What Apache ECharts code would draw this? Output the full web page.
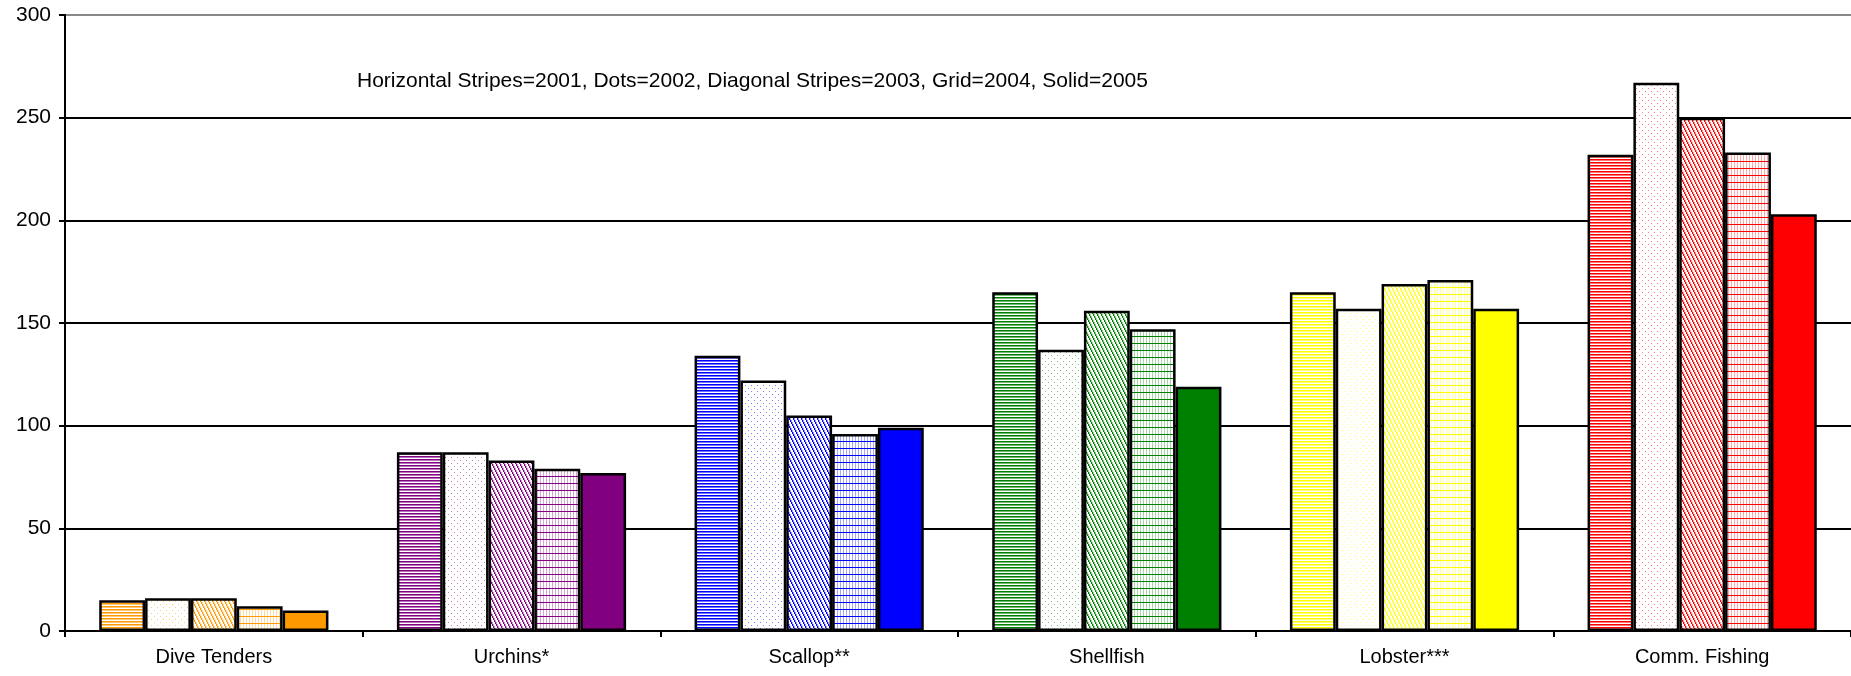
<!DOCTYPE html>
<html>
<head>
<meta charset="utf-8">
<script src="https://cdn.jsdelivr.net/npm/echarts@6/dist/echarts.min.js"></script>
<style>
  html, body { margin: 0; padding: 0; background: #fff; }
  #chart { width: 1851px; height: 676px; }
</style>
</head>
<body>
<div id="chart"></div>
<script>
const categories = ['Dive Tenders', 'Urchins*', 'Scallop**', 'Shellfish', 'Lobster***', 'Comm. Fishing']
const years = ['2001', '2002', '2003', '2004', '2005']
const catColors = ['#FF9900', '#800080', '#0000FF', '#008000', '#FFFF00', '#FF0000']

// values per year, one entry per category
const v2001 = [15, 87, 134, 165, 165, 232]
const v2002 = [16, 87, 122, 137, 157, 267]
const v2003 = [16, 83, 105, 156, 169, 250]
const v2004 = [12, 79, 96, 147, 171, 233]
const v2005 = [10, 77, 99, 119, 157, 203]
const yearValues = [v2001, v2002, v2003, v2004, v2005]

const noteText = 'Horizontal Stripes=2001, Dots=2002, Diagonal Stripes=2003, Grid=2004, Solid=2005'

// build a small repeating fill for each year style
const makePattern = (kind, color) => {
  const c = document.createElement('canvas')
  const ctx = c.getContext('2d')
  const px = (x, y, alpha) => {
    ctx.globalAlpha = alpha
    ctx.fillStyle = color
    ctx.fillRect(x, y, 1, 1)
  }
  if (kind === 0) {
    // horizontal stripes
    c.width = 4; c.height = 3
    ctx.fillStyle = '#fff'; ctx.fillRect(0, 0, 4, 3)
    for (let x = 0; x < 4; x++) { px(x, 0, 1); px(x, 1, 0.55) }
  } else if (kind === 1) {
    // dots
    c.width = 6; c.height = 6
    ctx.fillStyle = '#fff'; ctx.fillRect(0, 0, 6, 6)
    px(1, 1, 0.5); px(4, 4, 0.5)
  } else if (kind === 2) {
    // diagonal stripes
    c.width = 4; c.height = 8
    ctx.fillStyle = '#fff'; ctx.fillRect(0, 0, 4, 8)
    for (let y = 0; y < 8; y++) {
      const x = Math.floor(y / 2) % 4
      px(x, y, 1)
      px((x + 1) % 4, y, 0.4)
    }
  } else if (kind === 3) {
    // grid
    c.width = 3; c.height = 7
    ctx.fillStyle = '#fff'; ctx.fillRect(0, 0, 3, 7)
    for (let y = 0; y < 7; y++) px(0, y, 0.35)
    for (let x = 0; x < 3; x++) px(x, 0, 1)
  } else {
    return color
  }
  return { image: c, repeat: 'repeat' }
}

const chart = echarts.init(document.getElementById('chart'))

const series = years.map((yr, k) => ({
  name: yr,
  type: 'bar',
  barGap: '0%',
  barCategoryGap: '23%',
  data: yearValues[k].map((v, i) => ({
    value: v,
    itemStyle: { color: makePattern(k, catColors[i]) }
  })),
  itemStyle: { borderColor: '#000', borderWidth: 2.5 },
  emphasis: { disabled: true }
}))

const option = {
  animation: false,
  backgroundColor: '#fff',
  title: {
    text: noteText,
    left: 352,
    top: 66,
    textStyle: { fontFamily: 'Liberation Sans', fontSize: 21, fontWeight: 'normal', color: '#000' }
  },
  grid: { left: 65, right: 0, top: 15, bottom: 45 },
  xAxis: {
    type: 'category',
    data: categories,
    axisLine: { lineStyle: { color: '#000', width: 2 } },
    axisTick: { show: true, alignWithLabel: false, length: 6, lineStyle: { color: '#000', width: 2 } },
    axisLabel: { fontFamily: 'Liberation Sans', fontSize: 20, color: '#000', margin: 16 }
  },
  yAxis: {
    type: 'value',
    min: 0,
    max: 300,
    interval: 50,
    axisLine: { show: true, lineStyle: { color: '#000', width: 2 } },
    axisTick: { show: true, length: 6, lineStyle: { color: '#000', width: 2 } },
    axisLabel: { fontFamily: 'Liberation Sans', fontSize: 21, color: '#000', margin: 14 },
    splitLine: { lineStyle: { color: ['#000', '#000', '#000', '#000', '#000', '#000', '#888'], width: 2 } }
  },
  series
}

chart.setOption(option)
</script>
</body>
</html>
